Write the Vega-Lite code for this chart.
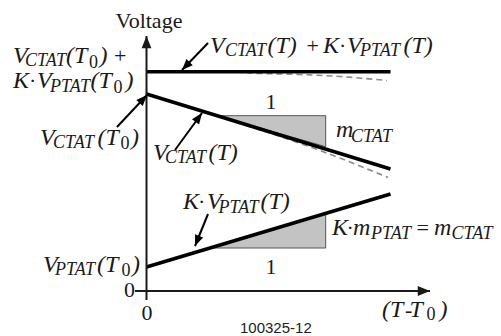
{
  "$schema": "https://vega.github.io/schema/vega-lite/v6.json",
  "width": 501,
  "height": 336,
  "autosize": {"type": "fit", "contains": "padding"},
  "padding": 0,
  "background": "white",
  "config": {"view": {"stroke": null}},
  "datasets": {
    "tri": [
      {"g": "c", "x": 0.705, "y": 1.753, "y2": 1.753},
      {"g": "c", "x": 1.792, "y": 1.753, "y2": 1.443},
      {"g": "p", "x": 0.635, "y": 0.43, "y2": 0.43},
      {"g": "p", "x": 1.792, "y": 0.43, "y2": 0.776}
    ],
    "dash": [
      {"g": "top", "x": 0.9, "y": 2.19},
      {"g": "top", "x": 1.035, "y": 2.18},
      {"g": "top", "x": 1.535, "y": 2.165},
      {"g": "top", "x": 1.935, "y": 2.145},
      {"g": "top", "x": 2.405, "y": 2.105},
      {"g": "ctat", "x": 0.7, "y": 1.752},
      {"g": "ctat", "x": 0.935, "y": 1.675},
      {"g": "ctat", "x": 1.335, "y": 1.545},
      {"g": "ctat", "x": 1.735, "y": 1.405},
      {"g": "ctat", "x": 2.035, "y": 1.29},
      {"g": "ctat", "x": 2.415, "y": 1.135}
    ],
    "solid": [
      {"x0": 0, "y0": 2.193, "x": 2.44, "y": 2.193},
      {"x0": 0, "y0": 1.97, "x": 2.44, "y": 1.22},
      {"x0": 0, "y0": 0.24, "x": 2.44, "y": 0.97}
    ],
    "axes": [
      {"x0": 0, "y0": -0.09, "x": 0, "y": 2.55},
      {"x0": -0.115, "y0": 0, "x": 2.835, "y": 0}
    ],
    "pointers": [
      {"x0": 0.615, "y0": 2.48, "x": 0.355, "y": 2.21},
      {"x0": -0.295, "y0": 1.64, "x": 0.005, "y": 1.96},
      {"x0": 0.285, "y0": 1.41, "x": 0.555, "y": 1.78},
      {"x0": 0.615, "y0": 0.77, "x": 0.485, "y": 0.45}
    ],
    "txt": [
      {"x": -1.335, "y": 2.277, "t": "V", "k": "i"},
      {"x": -1.215, "y": 2.25, "t": "CTAT", "k": "s"},
      {"x": -0.805, "y": 2.277, "t": "(T", "k": "i"},
      {"x": -0.575, "y": 2.235, "t": "0", "k": "z"},
      {"x": -0.47, "y": 2.277, "t": ")", "k": "i"},
      {"x": -0.325, "y": 2.277, "t": "+", "k": "r"},
      {"x": -1.335, "y": 2.03, "t": "K", "k": "i"},
      {"x": -1.175, "y": 2.03, "t": "·", "k": "r"},
      {"x": -1.095, "y": 2.03, "t": "V", "k": "i"},
      {"x": -0.965, "y": 1.995, "t": "PTAT", "k": "s"},
      {"x": -0.56, "y": 2.03, "t": "(T", "k": "i"},
      {"x": -0.33, "y": 1.985, "t": "0", "k": "z"},
      {"x": -0.21, "y": 2.03, "t": ")", "k": "i"},
      {"x": 0.635, "y": 2.377, "t": "V", "k": "i"},
      {"x": 0.785, "y": 2.35, "t": "CTAT", "k": "s"},
      {"x": 1.21, "y": 2.377, "t": "(T)", "k": "i"},
      {"x": 1.6, "y": 2.377, "t": "+", "k": "r"},
      {"x": 1.765, "y": 2.377, "t": "K", "k": "i"},
      {"x": 1.925, "y": 2.377, "t": "·", "k": "r"},
      {"x": 2.005, "y": 2.377, "t": "V", "k": "i"},
      {"x": 2.135, "y": 2.35, "t": "PTAT", "k": "s"},
      {"x": 2.57, "y": 2.377, "t": "(T)", "k": "i"},
      {"x": -1.065, "y": 1.46, "t": "V", "k": "i"},
      {"x": -0.935, "y": 1.43, "t": "CTAT", "k": "s"},
      {"x": -0.49, "y": 1.46, "t": "(T", "k": "i"},
      {"x": -0.26, "y": 1.42, "t": "0", "k": "z"},
      {"x": -0.155, "y": 1.46, "t": ")", "k": "i"},
      {"x": 0.065, "y": 1.31, "t": "V", "k": "i"},
      {"x": 0.185, "y": 1.28, "t": "CTAT", "k": "s"},
      {"x": 0.62, "y": 1.31, "t": "(T)", "k": "i"},
      {"x": 1.245, "y": 1.82, "t": "1", "k": "c"},
      {"x": 1.895, "y": 1.543, "t": "m", "k": "i"},
      {"x": 2.045, "y": 1.493, "t": "CTAT", "k": "s"},
      {"x": 0.365, "y": 0.82, "t": "K", "k": "i"},
      {"x": 0.515, "y": 0.82, "t": "·", "k": "r"},
      {"x": 0.605, "y": 0.82, "t": "V", "k": "i"},
      {"x": 0.72, "y": 0.785, "t": "PTAT", "k": "s"},
      {"x": 1.14, "y": 0.82, "t": "(T)", "k": "i"},
      {"x": 1.855, "y": 0.56, "t": "K", "k": "i"},
      {"x": 2.0, "y": 0.56, "t": "·", "k": "r"},
      {"x": 2.065, "y": 0.56, "t": "m", "k": "i"},
      {"x": 2.245, "y": 0.525, "t": "PTAT", "k": "s"},
      {"x": 2.7, "y": 0.56, "t": "=", "k": "r"},
      {"x": 2.875, "y": 0.56, "t": "m", "k": "i"},
      {"x": 3.05, "y": 0.525, "t": "CTAT", "k": "s"},
      {"x": 1.245, "y": 0.17, "t": "1", "k": "c"},
      {"x": -1.035, "y": 0.193, "t": "V", "k": "i"},
      {"x": -0.915, "y": 0.16, "t": "PTAT", "k": "s"},
      {"x": -0.495, "y": 0.193, "t": "(T", "k": "i"},
      {"x": -0.25, "y": 0.15, "t": "0", "k": "z"},
      {"x": -0.145, "y": 0.193, "t": ")", "k": "i"},
      {"x": -0.225, "y": -0.057, "t": "0", "k": "r"},
      {"x": -0.05, "y": -0.29, "t": "0", "k": "r"},
      {"x": 0.025, "y": 2.627, "t": "Voltage", "k": "c"},
      {"x": 2.355, "y": -0.257, "t": "(T", "k": "i"},
      {"x": 2.585, "y": -0.257, "t": "-", "k": "r"},
      {"x": 2.63, "y": -0.257, "t": "T", "k": "i"},
      {"x": 2.8, "y": -0.29, "t": "0", "k": "z"},
      {"x": 2.93, "y": -0.257, "t": ")", "k": "i"},
      {"x": 0.935, "y": -0.42, "t": "100325-12", "k": "a"}
    ]
  },
  "encoding": {
    "x": {"field": "x", "type": "quantitative", "scale": {"domain": [-1.465, 3.545], "nice": false, "zero": false}, "axis": null},
    "y": {"field": "y", "type": "quantitative", "scale": {"domain": [-0.45, 2.91], "nice": false, "zero": false}, "axis": null}
  },
  "layer": [
    {
      "data": {"name": "tri"},
      "mark": {"type": "area", "fill": "#c3c3c3", "stroke": "#555555", "strokeWidth": 1, "opacity": 1},
      "encoding": {
        "y2": {"field": "y2"},
        "detail": {"field": "g", "type": "nominal"}
      }
    },
    {
      "data": {"name": "dash"},
      "mark": {"type": "line", "color": "#8a8a8a", "strokeWidth": 1.6, "strokeDash": [6, 4], "interpolate": "monotone"},
      "encoding": {"detail": {"field": "g", "type": "nominal"}}
    },
    {
      "data": {"name": "solid"},
      "mark": {"type": "rule", "color": "#000000", "strokeWidth": 3.6, "strokeCap": "butt"},
      "encoding": {
        "x": {"field": "x0", "type": "quantitative"},
        "y": {"field": "y0", "type": "quantitative"},
        "x2": {"field": "x"},
        "y2": {"field": "y"}
      }
    },
    {
      "data": {"name": "axes"},
      "mark": {"type": "rule", "color": "#1a1a1a", "strokeWidth": 2, "strokeCap": "butt"},
      "encoding": {
        "x": {"field": "x0", "type": "quantitative"},
        "y": {"field": "y0", "type": "quantitative"},
        "x2": {"field": "x"},
        "y2": {"field": "y"}
      }
    },
    {
      "data": {"name": "axes"},
      "transform": [{"calculate": "atan2(datum.x - datum.x0, datum.y - datum.y0) * 180 / PI", "as": "ang"}],
      "mark": {"type": "point", "shape": "M0,0L-0.4,1L0.4,1Z", "filled": true, "fill": "#1a1a1a", "strokeWidth": 0, "opacity": 1, "size": 600},
      "encoding": {"angle": {"field": "ang", "type": "quantitative", "scale": null}}
    },
    {
      "data": {"name": "pointers"},
      "mark": {"type": "rule", "color": "#000000", "strokeWidth": 2, "strokeCap": "butt"},
      "encoding": {
        "x": {"field": "x0", "type": "quantitative"},
        "y": {"field": "y0", "type": "quantitative"},
        "x2": {"field": "x"},
        "y2": {"field": "y"}
      }
    },
    {
      "data": {"name": "pointers"},
      "transform": [{"calculate": "atan2(datum.x - datum.x0, datum.y - datum.y0) * 180 / PI", "as": "ang"}],
      "mark": {"type": "point", "shape": "M0,0L-0.4,1L0.4,1Z", "filled": true, "fill": "#000000", "strokeWidth": 0, "opacity": 1, "size": 480},
      "encoding": {"angle": {"field": "ang", "type": "quantitative", "scale": null}}
    },
    {
      "data": {"name": "txt"},
      "transform": [{"filter": "datum.k == 'i'"}],
      "mark": {"type": "text", "align": "left", "baseline": "alphabetic", "font": "Liberation Serif", "fontStyle": "italic", "fontSize": 24, "color": "#1a1a1a"},
      "encoding": {"text": {"field": "t"}}
    },
    {
      "data": {"name": "txt"},
      "transform": [{"filter": "datum.k == 's'"}],
      "mark": {"type": "text", "align": "left", "baseline": "alphabetic", "font": "Liberation Serif", "fontStyle": "italic", "fontSize": 18, "color": "#1a1a1a"},
      "encoding": {"text": {"field": "t"}}
    },
    {
      "data": {"name": "txt"},
      "transform": [{"filter": "datum.k == 'z'"}],
      "mark": {"type": "text", "align": "left", "baseline": "alphabetic", "font": "Liberation Serif", "fontSize": 18, "color": "#1a1a1a"},
      "encoding": {"text": {"field": "t"}}
    },
    {
      "data": {"name": "txt"},
      "transform": [{"filter": "datum.k == 'r'"}],
      "mark": {"type": "text", "align": "left", "baseline": "alphabetic", "font": "Liberation Serif", "fontSize": 22, "color": "#1a1a1a"},
      "encoding": {"text": {"field": "t"}}
    },
    {
      "data": {"name": "txt"},
      "transform": [{"filter": "datum.k == 'c'"}],
      "mark": {"type": "text", "align": "center", "baseline": "alphabetic", "font": "Liberation Serif", "fontSize": 22, "color": "#1a1a1a"},
      "encoding": {"text": {"field": "t"}}
    },
    {
      "data": {"name": "txt"},
      "transform": [{"filter": "datum.k == 'a'"}],
      "mark": {"type": "text", "align": "left", "baseline": "alphabetic", "font": "Liberation Sans", "fontSize": 15, "color": "#222222"},
      "encoding": {"text": {"field": "t"}}
    }
  ]
}
